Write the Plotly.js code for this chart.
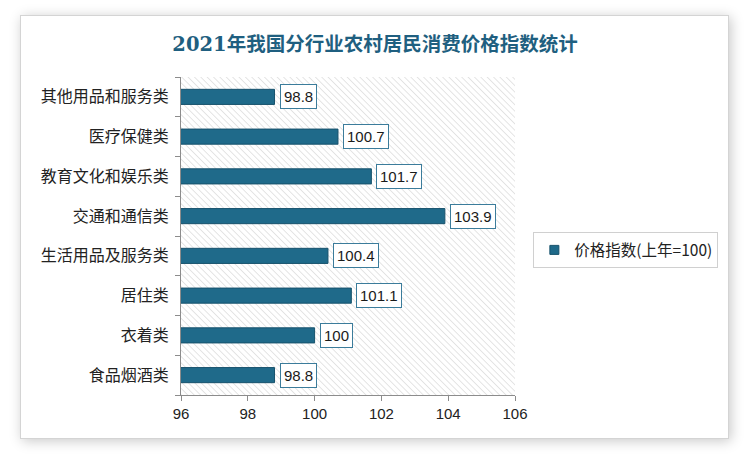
<!DOCTYPE html>
<html>
<head>
<meta charset="utf-8">
<script src="https://cdn.plot.ly/plotly-3.0.1.min.js"></script>
<style>
html,body{margin:0;padding:0;background:#ffffff;}
#frame{position:absolute;left:20px;top:15px;width:707px;height:422px;background:#fff;border:1px solid #d4d4d4;box-shadow:2px 2px 12px rgba(0,0,0,0.22);}
#chart{position:absolute;left:0;top:0;width:750px;height:455px;}
</style>
</head>
<body>
<div id="frame"></div>
<div id="chart"></div>
<script>
const categories = ['食品烟酒类','衣着类','居住类','生活用品及服务类','交通和通信类','教育文化和娱乐类','医疗保健类','其他用品和服务类'];
const values = [98.8, 100, 101.1, 100.4, 103.9, 101.7, 100.7, 98.8];
const seriesName = '价格指数(上年=100)';
const xTicks = [96, 98, 100, 102, 104, 106];
const titleText = '2021年我国分行业农村居民消费价格指数统计';

const barColor = '#1f6a8a';
const svg = '<svg xmlns="http://www.w3.org/2000/svg" width="334" height="318">' +
  '<defs><pattern id="p" width="4.5" height="4.5" patternUnits="userSpaceOnUse" patternTransform="rotate(-45)">' +
  '<line x1="0" y1="0" x2="0" y2="4.5" stroke="#d4d4d4" stroke-width="1.2"/></pattern></defs>' +
  '<rect width="334" height="318" fill="#ffffff"/><rect width="334" height="318" fill="url(#p)"/></svg>';
const hatch = 'data:image/svg+xml;charset=utf-8,' + encodeURIComponent(svg);

const barTrace = {
  type: 'bar',
  orientation: 'h',
  y: categories,
  x: values,
  name: seriesName,
  width: 0.38,
  showlegend: false,
  marker: {color: barColor, line: {color: '#17526c', width: 1}},
  hoverinfo: 'skip'
};
const legendTrace = {
  type: 'scatter', mode: 'markers',
  x: [null], y: [null],
  name: seriesName,
  showlegend: true,
  marker: {symbol: 'square', size: 9, color: barColor, line: {color: '#17526c', width: 1}},
  hoverinfo: 'skip'
};

const annotations = values.map((v, i) => ({
  x: v, y: categories[i], xref: 'x', yref: 'y',
  text: String(v), showarrow: false,
  xanchor: 'left', yanchor: 'middle', xshift: 5,
  bgcolor: '#ffffff', bordercolor: '#3b7c9b', borderwidth: 1, borderpad: 3,
  font: {family: 'Liberation Sans, Noto Sans CJK SC, sans-serif', size: 15, color: '#1a1a1a'}
}));

const layout = {
  width: 750, height: 455,
  margin: {l: 181, r: 235, t: 77, b: 60},
  paper_bgcolor: 'rgba(0,0,0,0)',
  plot_bgcolor: 'rgba(0,0,0,0)',
  title: {
    text: titleText,
    x: 0.5, xref: 'container', xanchor: 'center',
    y: 0.902, yref: 'container', yanchor: 'middle',
    font: {family: 'DejaVu Serif, Noto Sans CJK SC, serif', size: 19.5, color: '#1f5f80', weight: 'bold'}
  },
  xaxis: {
    range: [96, 106], tickvals: xTicks, ticktext: xTicks.map(String),
    showgrid: false, zeroline: false,
    showline: true, linecolor: '#8c8c8c', linewidth: 1,
    ticks: 'outside', ticklen: 5, tickcolor: '#8c8c8c',
    tickfont: {family: 'Liberation Sans, sans-serif', size: 15, color: '#222'},
    fixedrange: true
  },
  yaxis: {
    type: 'category', categoryorder: 'array', categoryarray: categories,
    showgrid: false, zeroline: false,
    showline: true, linecolor: '#8c8c8c', linewidth: 1,
    ticks: 'outside', ticklen: 5, tickcolor: '#8c8c8c', tickson: 'boundaries',
    ticklabelstandoff: 8,
    tickfont: {family: 'Noto Sans CJK SC, sans-serif', size: 16, color: '#222'},
    fixedrange: true
  },
  images: [{
    source: hatch, xref: 'paper', yref: 'paper', x: 0, y: 1, sizex: 1, sizey: 1,
    xanchor: 'left', yanchor: 'top', sizing: 'stretch', layer: 'below'
  }],
  showlegend: true,
  legend: {
    x: 1.055, y: 0.455, xanchor: 'left', yanchor: 'middle',
    bordercolor: '#d0d0d0', borderwidth: 1, bgcolor: '#ffffff',
    font: {family: 'Noto Sans CJK SC, Liberation Sans, sans-serif', size: 15.5, color: '#222'},
    itemwidth: 30
  },
  annotations: annotations,
  bargap: 0.6
};

Plotly.newPlot('chart', [barTrace, legendTrace], layout, {displayModeBar: false, staticPlot: true});
</script>
</body>
</html>
